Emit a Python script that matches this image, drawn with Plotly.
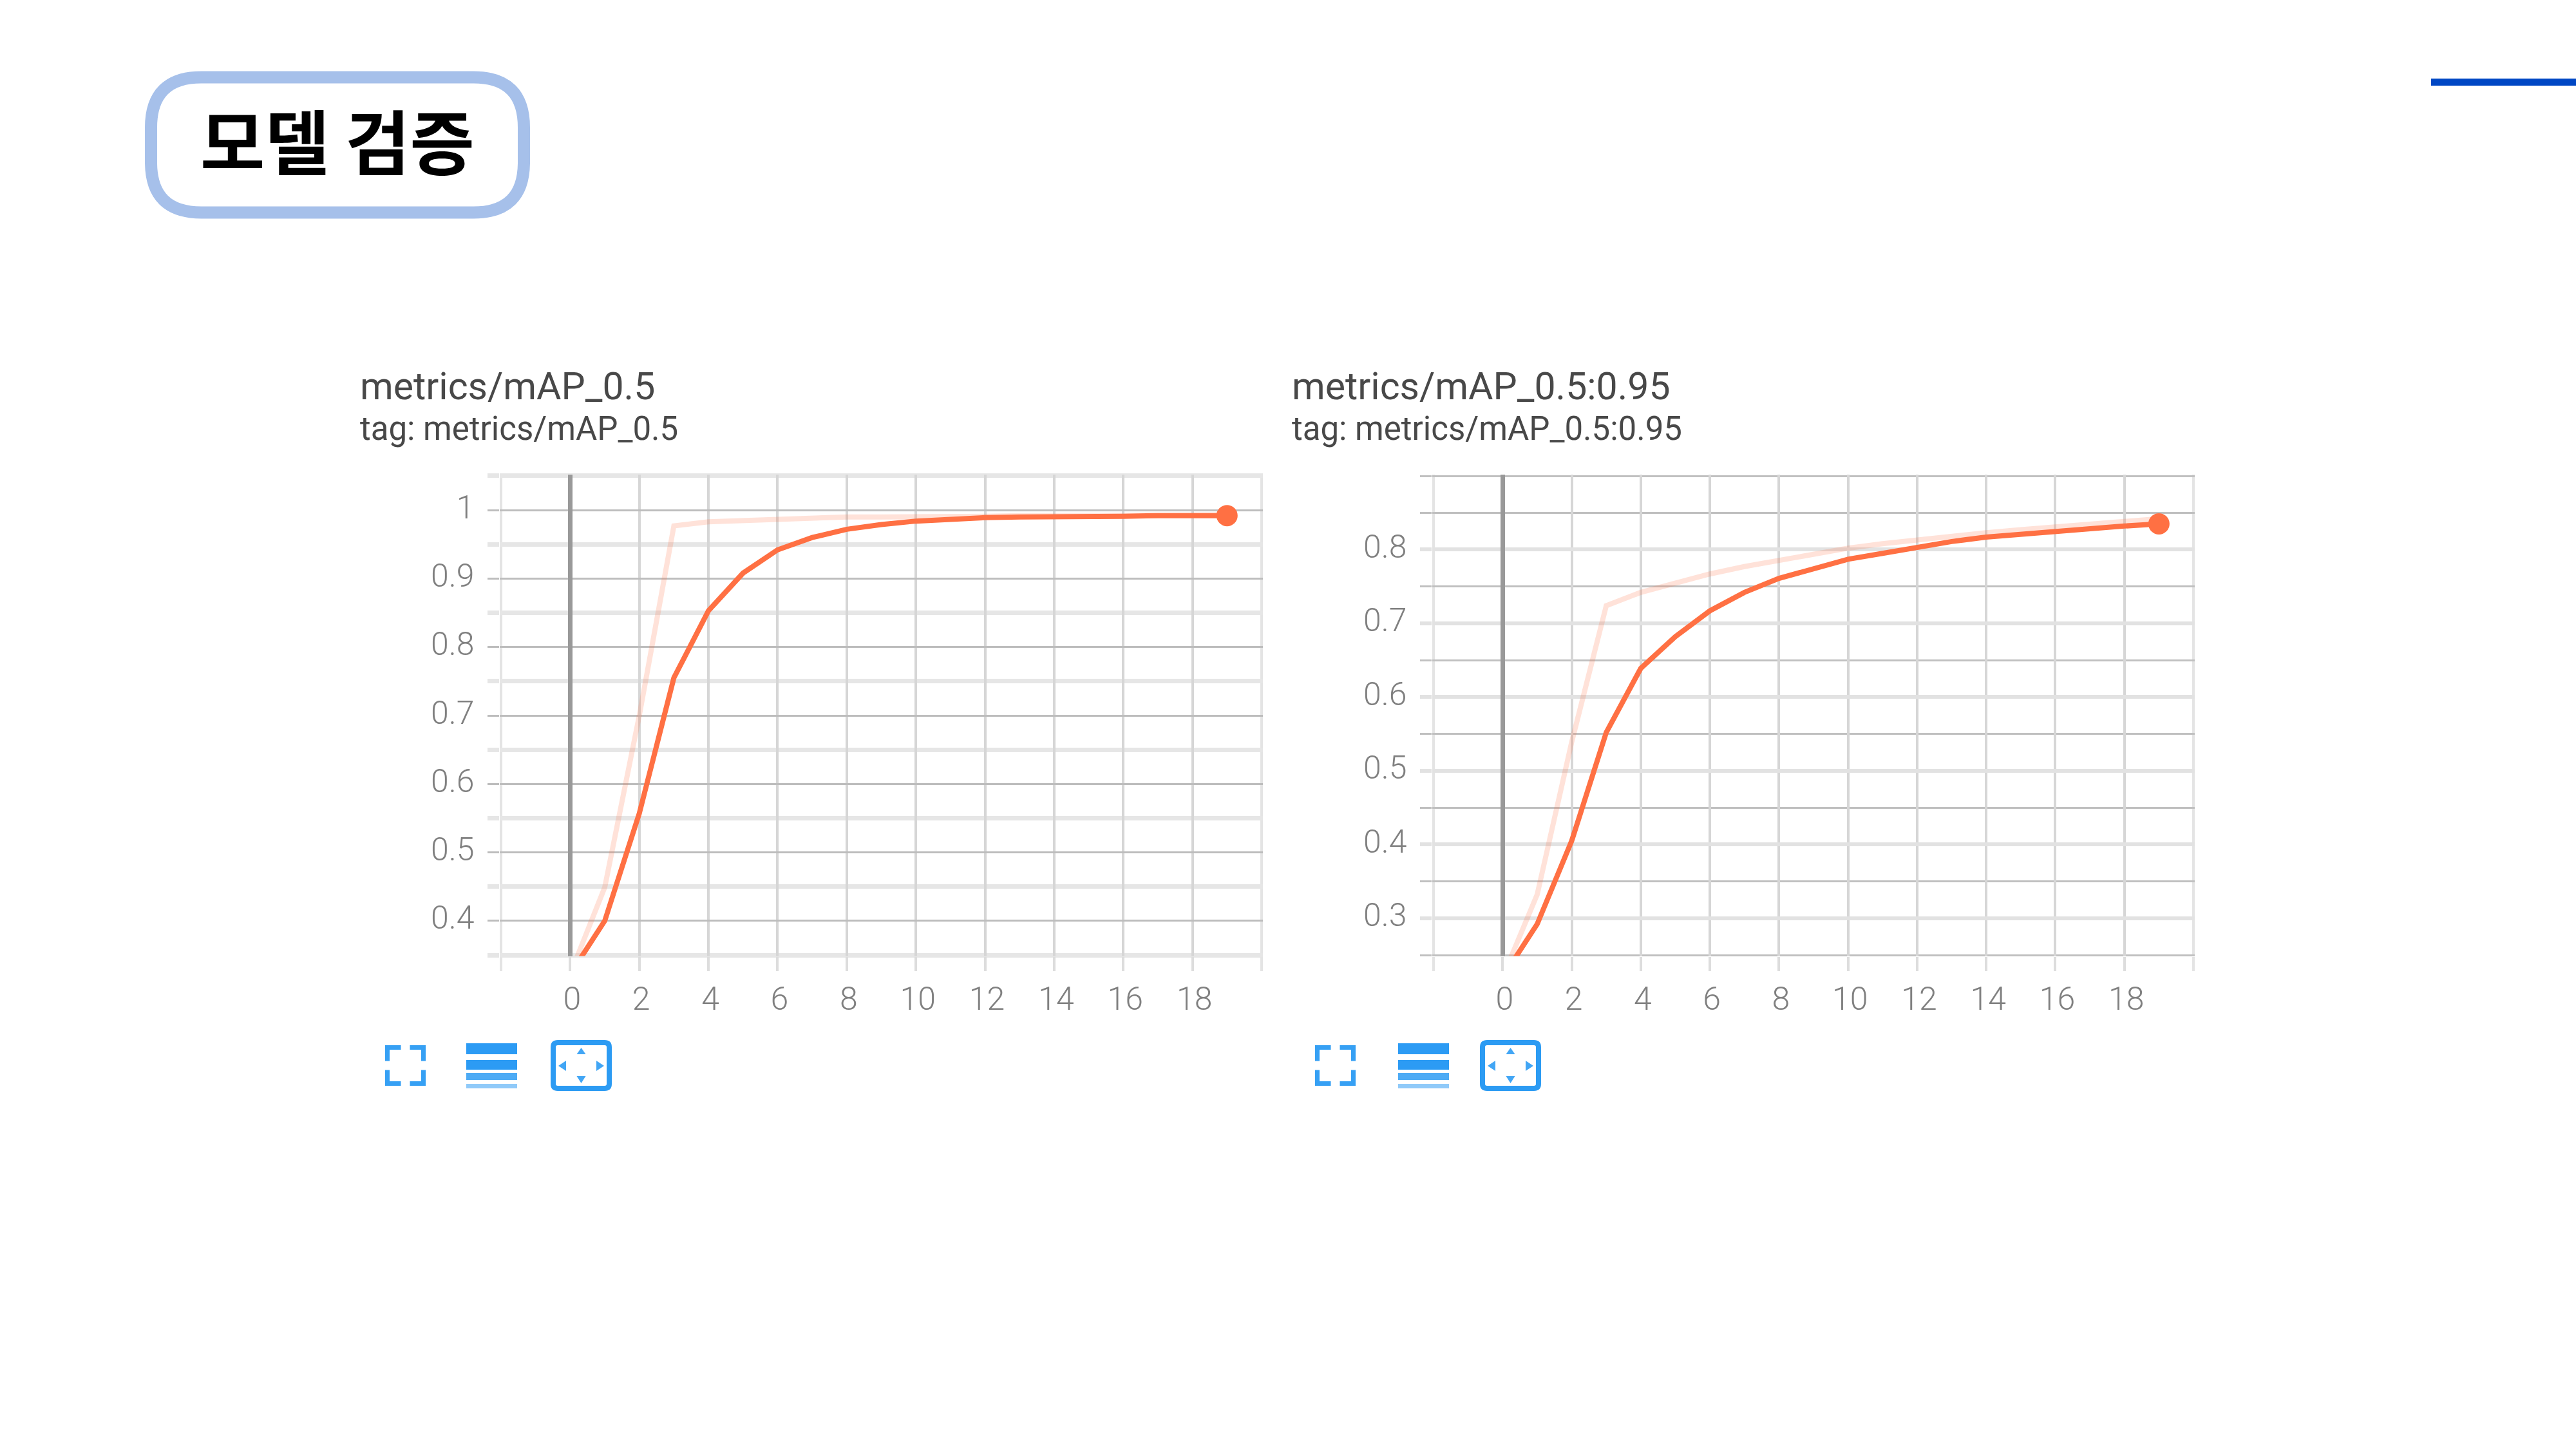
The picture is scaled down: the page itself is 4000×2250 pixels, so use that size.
import plotly.graph_objects as go

# ---------- data ----------
steps = list(range(20))
map50_raw = [0.322, 0.449, 0.700, 0.977, 0.983, 0.985, 0.987, 0.989, 0.990, 0.990,
             0.990, 0.991, 0.991, 0.992, 0.992, 0.992, 0.993, 0.993, 0.993, 0.993]
map50_smooth = [0.322, 0.400, 0.557, 0.755, 0.853, 0.908, 0.942, 0.960, 0.972, 0.979,
                0.984, 0.987, 0.989, 0.990, 0.990, 0.991, 0.991, 0.992, 0.992, 0.992]
map95_raw = [0.220, 0.332, 0.539, 0.724, 0.742, 0.755, 0.767, 0.777, 0.785, 0.793,
             0.802, 0.808, 0.813, 0.819, 0.823, 0.827, 0.831, 0.835, 0.839, 0.842]
map95_smooth = [0.220, 0.292, 0.405, 0.552, 0.639, 0.682, 0.717, 0.742, 0.761, 0.774,
                0.787, 0.795, 0.803, 0.811, 0.817, 0.821, 0.825, 0.829, 0.832, 0.835]

x_tick_vals = [0, 2, 4, 6, 8, 10, 12, 14, 16, 18]
x_tick_text = ["0", "2", "4", "6", "8", "10", "12", "14", "16", "18"]
x_minor = [-2, 20]
y1_major = [0.4, 0.5, 0.6, 0.7, 0.8, 0.9, 1.0]
y1_labels = ["0.4", "0.5", "0.6", "0.7", "0.8", "0.9", "1"]
y1_minor = [0.35, 0.45, 0.55, 0.65, 0.75, 0.85, 0.95, 1.05]
y2_major = [0.3, 0.4, 0.5, 0.6, 0.7, 0.8]
y2_labels = ["0.3", "0.4", "0.5", "0.6", "0.7", "0.8"]
y2_minor = [0.25, 0.35, 0.45, 0.55, 0.65, 0.75, 0.85, 0.9]

page_title = "모델 검증"
title_1 = "metrics/mAP_0.5"
sub_1 = "tag: metrics/mAP_0.5"
title_2 = "metrics/mAP_0.5:0.95"
sub_2 = "tag: metrics/mAP_0.5:0.95"

# ---------- colours ----------
ORANGE = "#ff7043"
FAINT = "rgba(255,112,67,0.2)"
ICON = "#2196f3"
W, H = 4000, 2250


def fx(p):
    return p / W


def fy(p):
    return 1 - p / H


def pt(x, y):
    return f"{fx(x):.6f},{fy(y):.6f}"


fig = go.Figure()
for i, (raw, smooth) in enumerate([(map50_raw, map50_smooth), (map95_raw, map95_smooth)]):
    xa, ya = ("x", "y") if i == 0 else ("x2", "y2")
    fig.add_trace(go.Scatter(x=steps, y=raw, mode="lines", xaxis=xa, yaxis=ya,
                             line=dict(color=FAINT, width=8)))
    fig.add_trace(go.Scatter(x=steps, y=smooth, mode="lines", xaxis=xa, yaxis=ya,
                             line=dict(color=ORANGE, width=8)))
    fig.add_trace(go.Scatter(x=steps[-1:], y=smooth[-1:], mode="markers", xaxis=xa, yaxis=ya,
                             marker=dict(color=ORANGE, size=33)))


def xaxis(left, right, anchor):
    return dict(
        domain=[fx(left), fx(right)], range=[-2.03, 20.03], anchor=anchor,
        tickmode="array", tickvals=x_tick_vals, ticktext=x_tick_text,
        ticks="outside", ticklen=22, tickwidth=4, tickcolor="#dddddd",
        showgrid=True, gridcolor="#d6d6d6", gridwidth=4,
        minor=dict(tickmode="array", tickvals=x_minor, ticks="outside", ticklen=22,
                   tickwidth=4, tickcolor="#e4e4e4", showgrid=True,
                   gridcolor="#e4e4e4", gridwidth=4),
        zeroline=True, zerolinecolor="#999999", zerolinewidth=7,
        showline=False, ticklabelstandoff=0, ticklabelshift=3,
        tickfont=dict(family="Roboto", size=50, color="#808080", weight=300),
    )


def yaxis(rng, major, labels, minor, anchor, major_col, major_w, minor_col, minor_w):
    return dict(
        domain=[fy(1484.6), fy(737.4)], range=rng, anchor=anchor,
        tickmode="array", tickvals=major, ticktext=labels,
        ticks="outside", ticklen=18, tickwidth=major_w, tickcolor=major_col,
        showgrid=True, gridcolor=major_col, gridwidth=major_w,
        minor=dict(tickmode="array", tickvals=minor, ticks="outside", ticklen=18,
                   tickwidth=minor_w, tickcolor=minor_col, showgrid=True,
                   gridcolor=minor_col, gridwidth=minor_w),
        zeroline=False, showline=False, ticklabelstandoff=11, ticklabelshift=-5,
        tickfont=dict(family="Roboto", size=50, color="#808080", weight=300),
    )


def text(s, x, y, size, color, family="Roboto", weight=400, anchor="left"):
    return dict(text=s, x=fx(x), y=fy(y), xref="paper", yref="paper", xanchor=anchor,
                yanchor="middle", showarrow=False,
                font=dict(family=family, size=size, color=color, weight=weight))


def rounded(x0, y0, x1, y1, r):
    return ("M " + pt(x0 + r, y0) + " L " + pt(x1 - r, y0) + " Q " + pt(x1, y0) + " " + pt(x1, y0 + r)
            + " L " + pt(x1, y1 - r) + " Q " + pt(x1, y1) + " " + pt(x1 - r, y1)
            + " L " + pt(x0 + r, y1) + " Q " + pt(x0, y1) + " " + pt(x0, y1 - r)
            + " L " + pt(x0, y0 + r) + " Q " + pt(x0, y0) + " " + pt(x0 + r, y0) + " Z")


def rect(x0, y0, x1, y1, color, opacity=1.0):
    return dict(type="rect", xref="paper", yref="paper", x0=fx(x0), x1=fx(x1), y0=fy(y0), y1=fy(y1),
                fillcolor=color, opacity=opacity, line=dict(width=0))


def path(d, line_color=None, line_w=0, fill="rgba(0,0,0,0)", opacity=1.0):
    return dict(type="path", xref="paper", yref="paper", path=d, fillcolor=fill, opacity=opacity,
                line=dict(color=line_color or "rgba(0,0,0,0)", width=line_w))


def poly(points):
    return "M " + " L ".join(pt(x, y) for x, y in points) + " Z"


def icon_fullscreen(x0, y0):
    s = 63
    a = 21
    inset = 3.5
    l, t, r, b = x0 + inset, y0 + inset, x0 + s - inset, y0 + s - inset
    out = []
    for pts in [[(l + a, t), (l, t), (l, t + a)], [(r - a, t), (r, t), (r, t + a)],
                [(l, b - a), (l, b), (l + a, b)], [(r, b - a), (r, b), (r - a, b)]]:
        out.append(path("M " + " L ".join(pt(x, y) for x, y in pts), ICON, 7, opacity=0.9))
    return out


def icon_lines(x0):
    w = 79
    return [rect(x0, 1620, x0 + w, 1637, ICON, 0.95),
            rect(x0, 1646, x0 + w, 1661, ICON, 0.95),
            rect(x0, 1666, x0 + w, 1677, ICON, 0.8),
            rect(x0, 1683, x0 + w, 1690, ICON, 0.5)]


def icon_fit(x0):
    cx = x0 + 47.5
    cy = 1655
    return [path(rounded(x0 + 4, 1619, x0 + 91, 1690, 7), ICON, 8, opacity=0.95),
            path(poly([(cx - 7, 1637), (cx + 7, 1637), (cx, 1627)]), fill=ICON, opacity=0.85),
            path(poly([(cx - 7, 1671), (cx + 7, 1671), (cx, 1682)]), fill=ICON, opacity=0.85),
            path(poly([(x0 + 24, cy - 8), (x0 + 24, cy + 8), (x0 + 12, cy)]), fill=ICON, opacity=0.85),
            path(poly([(x0 + 71, cy - 8), (x0 + 71, cy + 8), (x0 + 83, cy)]), fill=ICON, opacity=0.85)]


shapes = [
    path(rounded(234.5, 120, 813.5, 330, 78), "#a6c0ea", 19),
    rect(3775, 122, 4000, 133, "#0047c4"),
]
for a, b, c in [(598, 724, 855), (2042, 2171, 2298)]:
    shapes += icon_fullscreen(a, 1623) + icon_lines(b) + icon_fit(c)

annotations = [
    text(page_title, 524, 215, 109, "#000000", family="Noto Sans CJK KR", weight=700, anchor="center"),
    text(title_1, 557, 600, 59, "#484848"),
    text(sub_1, 557, 665, 51, "#484848"),
    text(title_2, 2004, 600, 59, "#484848"),
    text(sub_2, 2004, 665, 51, "#484848"),
]

fig.update_layout(
    width=W, height=H, margin=dict(l=0, r=0, t=0, b=0), showlegend=False,
    paper_bgcolor="white", plot_bgcolor="white",
    xaxis=xaxis(776.4, 1960.6, "y"),
    yaxis=yaxis([0.3485, 1.0515], y1_major, y1_labels, y1_minor, "x", "#bdbdbd", 3, "#e6e6e6", 7),
    xaxis2=xaxis(2224.4, 3407.6, "y2"),
    yaxis2=yaxis([0.2486, 0.9014], y2_major, y2_labels, y2_minor, "x2", "#e2e2e2", 6, "#c0c0c0", 3),
    shapes=shapes, annotations=annotations,
)
fig.write_html("out.html", config={"displayModeBar": False},
               post_script="document.body.style.margin='0';")
